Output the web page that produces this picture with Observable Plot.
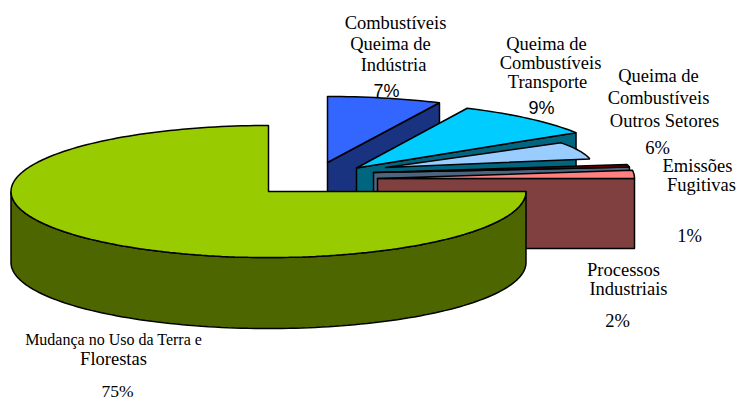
<!DOCTYPE html>
<html>
<head>
<meta charset="utf-8">
<script src="https://cdn.jsdelivr.net/npm/d3@7"></script>
<script src="https://cdn.jsdelivr.net/npm/@observablehq/plot@0.6"></script>
<style>html,body{margin:0;padding:0;background:#fff}svg{display:block}</style>
</head>
<body>
<div id="chart"></div>
<script>
// Data: clockwise from north
const categories = ["Combustíveis Queima de Indústria", "Queima de Combustíveis Transporte", "Queima de Combustíveis Outros Setores", "Emissões Fugitivas", "Processos Industriais", "Mudança no Uso da Terra e Florestas"];
const shares = [7, 9, 6, 1, 2, 75];
const topColors = ["#3366FF", "#00CCFF", "#99CCFF", "#800000", "#FF8080", "#99CC00"];
const wallColors = ["#1A3380", "#006680", "#4D6680", "#4D6680", "#804040", "#4D6600"];

// Layout of the exploded 3-D slices (pixel space)
const centerX = [327, 356, 385, 373, 377, 268];
const centerY = [162, 167.5, 167, 172, 178, 191];
const radiusX = [263, 260, 208, 258, 257, 257.5];
const radiusY = [66, 66, 46, 43, 66, 66];
const depths = [71, 71, 0, 71, 70, 71];

// Label lines
const labelLines = ["Combustíveis", "Queima de", "Indústria", "Queima de", "Combustíveis", "Transporte", "Queima de", "Combustíveis", "Outros Setores", "6%", "Emissões", "Fugitivas", "1%", "Processos", "Industriais", "2%", "Mudança no Uso da Terra e", "Florestas", "75%"];
const labelX = [395, 390, 393, 546, 550, 547, 658, 658, 664, 657, 697, 701, 689, 623, 628, 617, 113, 113, 117];
const labelY = [23, 44, 65, 44, 63, 82, 76, 98, 121, 148, 166, 185, 236, 270, 289, 321, 339, 359, 391];
const labelSize = [18.5, 18.5, 18.5, 18.5, 18.5, 18.5, 18.5, 18.5, 18.5, 18.5, 18.5, 18.5, 18.5, 18.5, 18.5, 18.5, 16, 18.5, 17.5];
const sansLines = ["7%", "9%"];
const sansX = [386, 541];
const sansY = [91, 108];

const rad = d => d * Math.PI / 180;
const cumulative = d3.cumsum(shares);
const startDeg = i => (i === 0 ? 0 : cumulative[i - 1]) * 3.6;
const endDeg = i => cumulative[i] * 3.6;

function rim(i, a0, a1, dz = 0) {
  const n = Math.max(2, Math.ceil(Math.abs(a1 - a0) / 1.5));
  return d3.range(n + 1).map(k => {
    const a = rad(a0 + (a1 - a0) * k / n);
    return [centerX[i] + radiusX[i] * Math.sin(a), centerY[i] - radiusY[i] * Math.cos(a) + dz];
  });
}
const poly = pts => [...pts, pts[0], pts[1]];
const lineMark = (pts, fill) => Plot.line(pts, {x: d => d[0], y: d => d[1], fill, stroke: "#000", strokeWidth: 1.5, strokeLinejoin: "miter", curve: "linear"});

const marks = [];
// exploded slices, back to front
shares.forEach((v, i) => {
  const a0 = startDeg(i), a1 = endDeg(i);
  const c = [centerX[i], centerY[i]], d = depths[i];
  if (i < 5) {
    if (d > 0) {
      const e = rim(i, a1, a1)[0];
      marks.push(lineMark(poly([c, e, [e[0], e[1] + d], [c[0], c[1] + d]]), wallColors[i]));
    }
    marks.push(lineMark(poly([c, ...rim(i, a0, a1)]), topColors[i]));
  } else {
    // large slice: outer wall from the east round to the west, then the top
    marks.push(lineMark(poly([...rim(i, 90, 270), ...rim(i, 270, 90, d)]), wallColors[i]));
    marks.push(lineMark(poly([c, ...rim(i, a0 % 360, a1)]), topColors[i]));
  }
});

marks.push(Plot.text(labelLines.map((t, i) => i), {
  x: i => labelX[i], y: i => labelY[i], text: i => labelLines[i], fontSize: i => labelSize[i],
  fontFamily: "Liberation Serif", fill: "#000", textAnchor: "middle", lineAnchor: "middle"
}));
marks.push(Plot.text(sansLines.map((t, i) => i), {
  x: i => sansX[i], y: i => sansY[i], text: i => sansLines[i], fontSize: 18,
  fontFamily: "Liberation Sans", fill: "#000", textAnchor: "middle", lineAnchor: "middle"
}));

const plot = Plot.plot({
  width: 736, height: 401, margin: 0,
  style: {background: "#fff"},
  x: {domain: [0, 736], range: [0, 736], axis: null},
  y: {domain: [0, 401], range: [0, 401], axis: null},
  marks
});
document.getElementById("chart").append(plot);
</script>
</body>
</html>
